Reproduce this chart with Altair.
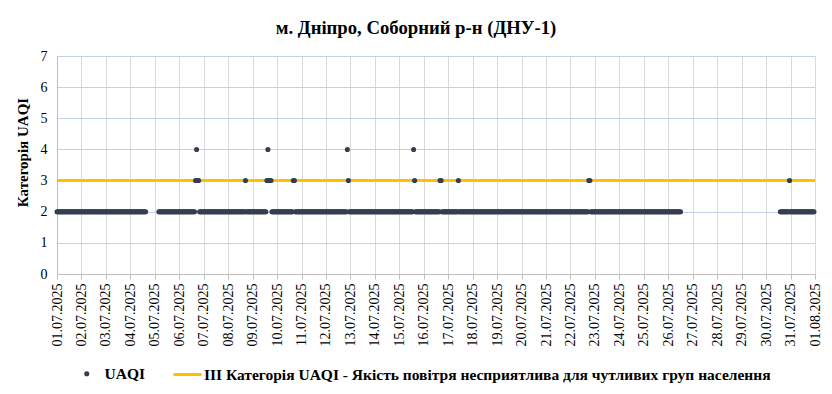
import altair as alt
import pandas as pd

title_text = "м. Дніпро, Соборний р-н (ДНУ-1)"
y_title = "Категорія UAQI"
series_points = "UAQI"
series_line = "III Категорія UAQI - Якість повітря несприятлива для чутливих груп населення"

day_labels = [
    "01.07.2025", "02.07.2025", "03.07.2025", "04.07.2025", "05.07.2025",
    "06.07.2025", "07.07.2025", "08.07.2025", "09.07.2025", "10.07.2025",
    "11.07.2025", "12.07.2025", "13.07.2025", "14.07.2025", "15.07.2025",
    "16.07.2025", "17.07.2025", "18.07.2025", "19.07.2025", "20.07.2025",
    "21.07.2025", "22.07.2025", "23.07.2025", "24.07.2025", "25.07.2025",
    "26.07.2025", "27.07.2025", "28.07.2025", "29.07.2025", "30.07.2025",
    "31.07.2025", "01.08.2025",
]

# hourly UAQI category for each day (hours 00..23), "-" = no data
hourly_uaqi = [
    "222222222222222222222222",  # 01.07
    "222222222222222222222222",  # 02.07
    "222222222222222222222222",  # 03.07
    "2222222222222222--------",  # 04.07
    "----22222222222222222222",  # 05.07
    "222222222222222234332222",  # 06.07
    "222222222222222222222222",  # 07.07
    "222222222222222223222222",  # 08.07
    "222222222222223433322222",  # 09.07
    "222222222222222233222222",  # 10.07
    "222222222222222222222222",  # 11.07
    "222222222222222222222432",  # 12.07
    "222222222222222222222222",  # 13.07
    "222222222222222222222222",  # 14.07
    "222222222222224322222222",  # 15.07
    "222222222222222233222222",  # 16.07
    "222222222232222222222222",  # 17.07
    "222222222222222222222222",  # 18.07
    "222222222222222222222222",  # 19.07
    "222222222222222222222222",  # 20.07
    "222222222222222222222222",  # 21.07
    "222222222222222222332222",  # 22.07
    "222222222222222222222222",  # 23.07
    "222222222222222222222222",  # 24.07
    "222222222222222222222222",  # 25.07
    "2222222222222-----------",  # 26.07
    "------------------------",  # 27.07
    "------------------------",  # 28.07
    "------------------------",  # 29.07
    "--------------2222222223",  # 30.07
    "222222222222222222222222",  # 31.07
]

threshold_value = 3
y_ticks = [0, 1, 2, 3, 4, 5, 6, 7]

FONT = "Liberation Serif"


def day_ms(label):
    return int(pd.Timestamp(pd.to_datetime(label, format="%d.%m.%Y"), tz="UTC").value // 10**6)


HOUR_MS = 3600 * 1000
rows = []
for label, hours in zip(day_labels, hourly_uaqi):
    base = day_ms(label)
    for h, c in enumerate(hours):
        if c != "-":
            rows.append({"t": base + h * HOUR_MS, "v": int(c), "series": series_points})
points_df = pd.DataFrame(rows)

line_df = pd.DataFrame({
    "t": [day_ms(day_labels[0]), day_ms(day_labels[-1])],
    "v": [threshold_value, threshold_value],
    "series": [series_line, series_line],
})

tick_values = [day_ms(d) for d in day_labels]

x_enc = alt.X(
    "t:T",
    scale=alt.Scale(type="utc", domain=[tick_values[0], tick_values[-1]]),
    axis=alt.Axis(
        values=tick_values,
        format="%d.%m.%Y",
        labelAngle=-90,
        labelFont=FONT,
        labelFontSize=14,
        labelColor="#000000",
        labelPadding=4,
        labelFlush=False,
        labelOverlap=False,
        tickSize=5,
        tickColor="#bfbfbf",
        domainColor="#bfbfbf",
        gridColor="#d9d9d9",
        title=None,
    ),
)

y_enc = alt.Y(
    "v:Q",
    scale=alt.Scale(domain=[0, 7], nice=False),
    axis=alt.Axis(
        values=y_ticks,
        format="d",
        labelFont=FONT,
        labelFontSize=14,
        labelColor="#000000",
        labelPadding=10,
        ticks=False,
        domainColor="#bfbfbf",
        gridColor="#c3d1ec",
        title=y_title,
        titleFont=FONT,
        titleFontSize=15,
        titleFontWeight="bold",
        titleColor="#000000",
        titleAngle=270,
        titleX=-35,
        titleY=96,
        titleAlign="center",
        titleBaseline="middle",
    ),
)

line = alt.Chart(line_df).mark_line(strokeWidth=3).encode(
    x=x_enc,
    y=y_enc,
    stroke=alt.Stroke(
        "series:N",
        scale=alt.Scale(domain=[series_line], range=["#ffc000"]),
        legend=alt.Legend(
            orient="none", legendX=115, legendY=303, title=None,
            symbolType="stroke", symbolSize=784, symbolStrokeWidth=3,
            labelFont=FONT, labelFontSize=15.5, labelFontWeight="bold",
            labelColor="#000000", labelOffset=1, labelLimit=0, padding=0,
        ),
    ),
)

pts = alt.Chart(points_df).mark_circle(size=26, opacity=1).encode(
    x=x_enc,
    y=y_enc,
    color=alt.Color(
        "series:N",
        scale=alt.Scale(domain=[series_points], range=["#333f50"]),
        legend=alt.Legend(
            orient="none", legendX=22, legendY=310, title=None,
            symbolType="circle", symbolSize=26, symbolOpacity=1,
            labelFont=FONT, labelFontSize=15.5, labelFontWeight="bold",
            labelColor="#000000", labelOffset=10, labelLimit=0, padding=0,
        ),
    ),
)

chart = alt.layer(line, pts).resolve_scale(color="independent").properties(
    width=758,
    height=218,
    title=alt.TitleParams(
        title_text, font=FONT, fontSize=18.7, fontWeight="bold",
        color="#000000", anchor="middle", dx=-20, offset=11,
    ),
    autosize=alt.AutoSizeParams(type="none"),
    padding={"left": 49, "top": 48, "right": 9, "bottom": 110},
).configure_view(strokeWidth=0).configure(background="#ffffff")

chart.save("out.html", embed_options={"renderer": "svg", "actions": False})
